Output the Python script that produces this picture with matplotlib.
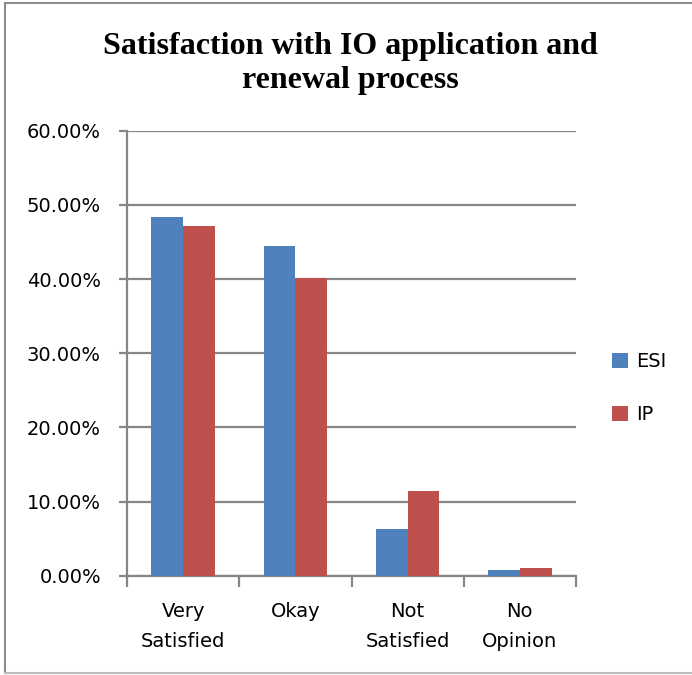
import matplotlib
matplotlib.use("Agg")
import matplotlib.pyplot as plt
import numpy as np
from matplotlib.lines import Line2D
from matplotlib.ticker import PercentFormatter

categories = ["Very\nSatisfied", "Okay", "Not\nSatisfied", "No\nOpinion"]
esi = [48.3, 44.4, 6.25, 0.78]
ip = [47.2, 40.15, 11.45, 1.05]
series_names = ["ESI", "IP"]
colors = ["#4f81bd", "#c0504d"]

grid_color = "#868686"
label_font = "DejaVu Sans"
label_size = 14

fig = plt.figure(figsize=(6.92, 6.75), dpi=100)
ax = fig.add_axes([127.3 / 692, 1 - 575.7 / 675, 448.4 / 692, 445 / 675])

x = np.arange(len(categories))
width = 0.285
ax.bar(x - width / 2, esi, width, color=colors[0], label=series_names[0], zorder=3)
ax.bar(x + width / 2, ip, width, color=colors[1], label=series_names[1], zorder=3)

ax.set_xlim(-0.5, len(categories) - 0.5)
ax.set_ylim(0, 60)
ax.set_yticks(np.arange(0, 61, 10))
ax.yaxis.set_major_formatter(PercentFormatter(decimals=2))
ax.grid(axis="y", color=grid_color, linewidth=1.6, zorder=0)

# category ticks sit on the boundaries between groups
ax.set_xticks(np.arange(-0.5, len(categories), 1.0))
ax.set_xticklabels([])
ax.set_xticks(x, minor=True)
ax.set_xticklabels(categories, minor=True, fontsize=label_size, family=label_font,
                   linespacing=1.75)
ax.tick_params(axis="x", which="major", length=8, width=1.6, color=grid_color)
ax.tick_params(axis="x", which="minor", length=0, pad=19)
ax.tick_params(axis="y", length=6, width=1.6, color=grid_color, pad=13,
               labelsize=label_size)
for lab in ax.get_yticklabels():
    lab.set_family(label_font)

for side in ["top", "right"]:
    ax.spines[side].set_visible(False)
for side in ["left", "bottom"]:
    ax.spines[side].set_color(grid_color)
    ax.spines[side].set_linewidth(1.6)

ax.legend(loc="center left", bbox_to_anchor=(612 / 692, 1 - 388 / 675),
          bbox_transform=fig.transFigure, frameon=False,
          prop={"family": label_font, "size": label_size}, handlelength=0.8,
          handleheight=0.8, handletextpad=0.45, labelspacing=1.75,
          borderaxespad=0, borderpad=0)

fig.text(350 / 692, 1 - 88 / 675, "Satisfaction with IO application and\nrenewal process",
         ha="center", va="baseline", fontsize=23, fontweight="bold",
         family="Liberation Serif", linespacing=1.24)

# outer chart frame
fig.add_artist(Line2D([5 / 692, 5 / 692], [1 - 3 / 675, 1 - 673 / 675],
                      color="#8c8c8c", linewidth=1.5))
fig.add_artist(Line2D([5 / 692, 1.0], [1 - 3 / 675, 1 - 3 / 675],
                      color="#8c8c8c", linewidth=1.5))
fig.add_artist(Line2D([5 / 692, 1.0], [1 - 673 / 675, 1 - 673 / 675],
                      color="#bcbcbc", linewidth=1.5))

fig.savefig("out.png", dpi=100)
